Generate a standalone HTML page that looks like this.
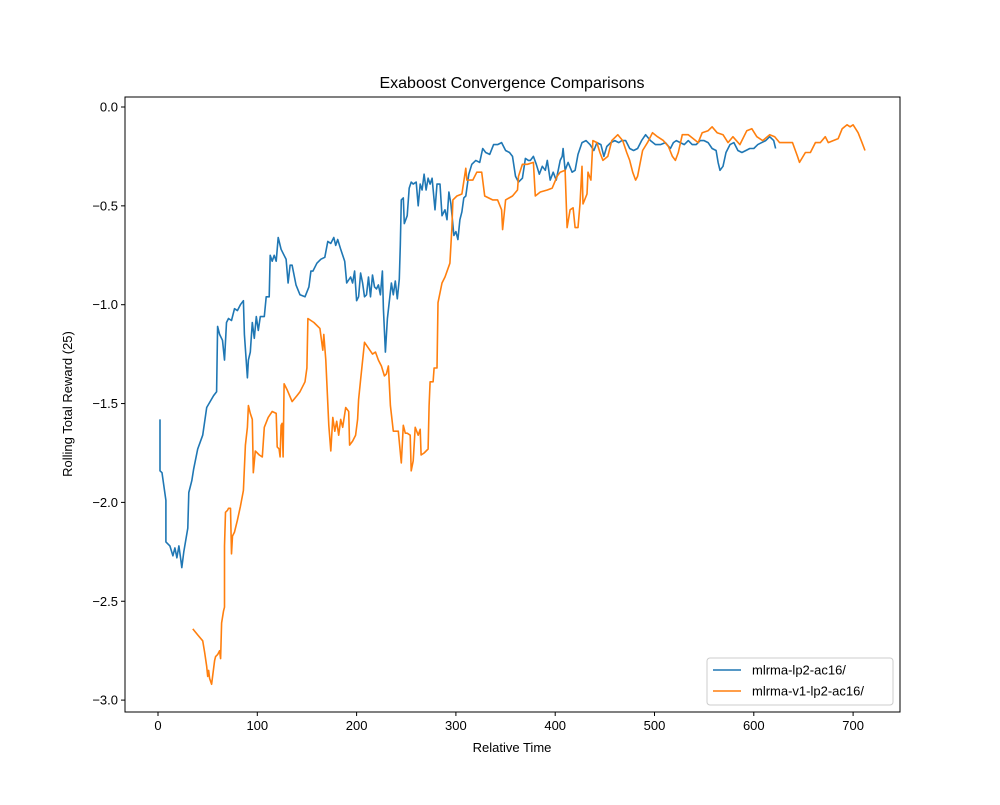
<!DOCTYPE html>
<html><head><meta charset="utf-8"><style>
body{margin:0;background:#fff}
svg text{font-family:"Liberation Sans","DejaVu Sans",sans-serif;fill:#000}
</style></head><body>
<svg id="chart" width="1000" height="800" xmlns="http://www.w3.org/2000/svg">
<rect width="1000" height="800" fill="#fff"/>
<g id="plot"></g>
</svg>
<script>
const xTicks=[0,100,200,300,400,500,600,700];
const yTicks=[0.0,-0.5,-1.0,-1.5,-2.0,-2.5,-3.0];
const seriesNames=["mlrma-lp2-ac16/","mlrma-v1-lp2-ac16/"];
const blueX=[2,2,4,8,8,12,15,17,19,21,23,24,26,30,31,34,36,40,45,49,56,59,60,62,65,67,69,71,74,77,80,83,86,87,90,91,93,95,97,99,101,103,107,109,112,113,115,117,119,121,124,127,129,131,133,135,139,143,148,152,154,156,160,164,168,171,174,177,179,181,184,188,190,194,196,198,200,202,204,206,208,210,212,214,216,218,220,222,224,226,227,229,231,233,235,237,239,241,243,244,245,247,248,251,253,255,257,260,262,264,266,268,270,272,274,276,279,281,284,286,289,291,293,295,298,300,302,304,306,308,310,313,316,320,324,327,330,334,338,342,346,350,354,357,360,363,367,370,373,375,378,381,384,387,390,392,395,398,401,403,405,407,408,410,413,417,420,423,427,431,435,439,442,446,449,452,456,460,464,467,471,475,479,483,487,491,496,501,506,511,516,519,522,526,530,534,538,542,546,550,554,558,562,564,566,569,572,576,580,584,588,592,596,600,604,608,612,616,620,622];
const blueY=[-1.58,-1.84,-1.85,-1.99,-2.20,-2.22,-2.27,-2.23,-2.28,-2.22,-2.29,-2.33,-2.25,-2.13,-1.95,-1.89,-1.83,-1.73,-1.66,-1.52,-1.46,-1.44,-1.11,-1.15,-1.18,-1.28,-1.09,-1.07,-1.08,-1.02,-1.03,-1.00,-0.98,-1.15,-1.37,-1.28,-1.24,-1.09,-1.17,-1.06,-1.13,-1.06,-1.06,-0.96,-0.96,-0.75,-0.78,-0.75,-0.78,-0.66,-0.72,-0.75,-0.77,-0.89,-0.80,-0.80,-0.90,-0.95,-0.96,-0.91,-0.83,-0.83,-0.79,-0.77,-0.76,-0.68,-0.69,-0.66,-0.70,-0.67,-0.72,-0.78,-0.89,-0.86,-0.89,-0.83,-0.98,-0.96,-0.84,-0.89,-0.96,-0.95,-0.86,-0.96,-0.85,-0.91,-0.92,-0.90,-0.95,-0.83,-1.02,-1.24,-1.07,-0.98,-0.89,-0.95,-0.88,-0.97,-0.87,-0.70,-0.47,-0.46,-0.59,-0.55,-0.41,-0.38,-0.39,-0.38,-0.50,-0.39,-0.42,-0.34,-0.42,-0.36,-0.39,-0.36,-0.52,-0.39,-0.39,-0.55,-0.52,-0.57,-0.43,-0.49,-0.65,-0.63,-0.67,-0.57,-0.53,-0.46,-0.45,-0.34,-0.29,-0.27,-0.28,-0.21,-0.23,-0.24,-0.19,-0.19,-0.18,-0.22,-0.23,-0.25,-0.35,-0.38,-0.36,-0.26,-0.27,-0.27,-0.25,-0.29,-0.34,-0.30,-0.32,-0.27,-0.37,-0.33,-0.37,-0.32,-0.27,-0.25,-0.21,-0.32,-0.28,-0.33,-0.32,-0.24,-0.18,-0.17,-0.19,-0.22,-0.18,-0.19,-0.25,-0.20,-0.18,-0.17,-0.18,-0.17,-0.17,-0.21,-0.22,-0.21,-0.17,-0.14,-0.17,-0.19,-0.19,-0.18,-0.21,-0.18,-0.17,-0.18,-0.19,-0.17,-0.19,-0.19,-0.17,-0.17,-0.18,-0.21,-0.22,-0.28,-0.32,-0.30,-0.23,-0.19,-0.18,-0.22,-0.23,-0.22,-0.21,-0.21,-0.19,-0.18,-0.17,-0.15,-0.17,-0.21];
const orangeX=[35,40,45,47,49,50,51,52,54,55,57,58,60,62,63,64,66,67,67,68,70,71,73,74,75,77,80,83,86,88,90,91,93,95,96,98,102,105,107,111,115,119,120,122,123,124,125,126,127,130,135,140,143,148,150,151,157,163,166,167,169,172,174,176,178,180,182,184,186,189,192,193,196,199,201,202,204,208,212,216,219,222,225,228,230,232,234,237,242,245,247,249,251,254,255,257,259,262,264,265,268,272,273,274,277,278,281,282,286,289,294,296,297,301,306,310,311,317,321,326,329,337,342,346,347,350,357,362,363,367,372,378,380,385,392,397,402,405,410,412,415,418,420,423,425,427,428,432,433,436,438,442,445,448,453,457,463,468,472,475,478,481,483,488,493,498,503,509,514,518,521,524,528,534,539,544,548,554,558,563,569,574,579,586,593,598,603,609,616,621,626,633,639,644,646,652,657,662,667,672,675,680,685,689,694,697,700,705,709,712];
const orangeY=[-2.64,-2.67,-2.70,-2.76,-2.83,-2.88,-2.85,-2.89,-2.92,-2.88,-2.80,-2.78,-2.77,-2.75,-2.79,-2.61,-2.55,-2.53,-2.22,-2.05,-2.04,-2.03,-2.03,-2.26,-2.17,-2.15,-2.09,-2.02,-1.94,-1.71,-1.62,-1.51,-1.55,-1.58,-1.85,-1.74,-1.76,-1.77,-1.62,-1.57,-1.54,-1.55,-1.72,-1.73,-1.77,-1.61,-1.60,-1.77,-1.40,-1.43,-1.49,-1.46,-1.44,-1.39,-1.32,-1.07,-1.09,-1.12,-1.23,-1.15,-1.28,-1.61,-1.74,-1.57,-1.64,-1.59,-1.66,-1.58,-1.62,-1.52,-1.54,-1.71,-1.69,-1.66,-1.58,-1.48,-1.38,-1.19,-1.22,-1.25,-1.24,-1.28,-1.31,-1.36,-1.35,-1.31,-1.51,-1.64,-1.64,-1.80,-1.61,-1.65,-1.65,-1.66,-1.84,-1.79,-1.62,-1.66,-1.63,-1.76,-1.75,-1.73,-1.51,-1.39,-1.39,-1.32,-1.32,-0.99,-0.89,-0.86,-0.79,-0.61,-0.47,-0.45,-0.44,-0.31,-0.37,-0.37,-0.33,-0.33,-0.45,-0.47,-0.47,-0.52,-0.62,-0.47,-0.45,-0.42,-0.35,-0.29,-0.29,-0.28,-0.45,-0.43,-0.42,-0.41,-0.35,-0.33,-0.32,-0.61,-0.52,-0.51,-0.61,-0.61,-0.49,-0.30,-0.49,-0.44,-0.33,-0.37,-0.17,-0.18,-0.23,-0.27,-0.25,-0.17,-0.14,-0.17,-0.23,-0.27,-0.33,-0.37,-0.35,-0.22,-0.18,-0.13,-0.15,-0.17,-0.20,-0.25,-0.27,-0.23,-0.14,-0.14,-0.16,-0.18,-0.13,-0.12,-0.10,-0.13,-0.14,-0.18,-0.15,-0.19,-0.12,-0.11,-0.15,-0.17,-0.14,-0.15,-0.18,-0.18,-0.18,-0.25,-0.28,-0.23,-0.23,-0.18,-0.18,-0.15,-0.18,-0.17,-0.16,-0.11,-0.09,-0.10,-0.09,-0.13,-0.18,-0.22];

const L=125,R=900,T=97,B=712;
const xs=v=>158+v*0.993;
const ys=v=>107-v*197.7;
const NS="http://www.w3.org/2000/svg";
const g=document.getElementById('plot');
function mk(tag,attrs,parent){const e=document.createElementNS(NS,tag);for(const k in attrs)e.setAttribute(k,attrs[k]);(parent||g).appendChild(e);return e;}

const frame=mk('rect',{x:L,y:T,width:R-L,height:B-T,fill:'none',stroke:'#000','stroke-width':1});



xTicks.forEach(t=>{
  const x=xs(t);
  const tk=mk('line',{x1:x,x2:x,y1:B,y2:B+4,stroke:'#000'});
  
  
  const tx=mk('text',{x:x,y:B+18,'text-anchor':'middle','font-size':13});
  tx.textContent=t;
  
  
});
yTicks.forEach(t=>{
  const y=ys(t);
  const tk=mk('line',{x1:L-4,x2:L,y1:y,y2:y,stroke:'#000'});
  
  
  const tx=mk('text',{x:L-7,y:y+4.5,'text-anchor':'end','font-size':13});
  tx.textContent=(t===0?'0.0':t.toFixed(1).replace('-','\u2212'));
  
  
});

function line(X,Y,color,name){
  const d=X.map((v,i)=>(i?'L':'M')+xs(v).toFixed(1)+','+ys(Y[i]).toFixed(1)).join('');
  const p=mk('path',{d:d,fill:'none',stroke:color,'stroke-width':1.6,'stroke-linejoin':'round'});
  
  
}
line(blueX,blueY,'#1f77b4','series-mlrma-lp2-line');
line(orangeX,orangeY,'#ff7f0e','series-mlrma-v1-lp2-line');

const title=mk('text',{x:512,y:88,'text-anchor':'middle','font-size':16});
title.textContent='Exaboost Convergence Comparisons';


const xl=mk('text',{x:512,y:752,'text-anchor':'middle','font-size':13});
xl.textContent='Relative Time';


const yl=mk('text',{x:0,y:0,'text-anchor':'middle','font-size':13,transform:'translate(72,404) rotate(-90)'});
yl.textContent='Rolling Total Reward (25)';



const lg=mk('g',{});


mk('rect',{x:707,y:658,width:186,height:47,rx:3,fill:'#fff',stroke:'#ccc'},lg);
const colors=['#1f77b4','#ff7f0e'];
seriesNames.forEach((n,i)=>{
  const y=670+i*21;
  const ln=mk('line',{x1:713,x2:741,y1:y,y2:y,stroke:colors[i],'stroke-width':1.6},lg);
  
  
  const t=mk('text',{x:752,y:y+4.5,'font-size':13},lg);
  t.textContent=n;
  
  
});
</script>
</body></html>
